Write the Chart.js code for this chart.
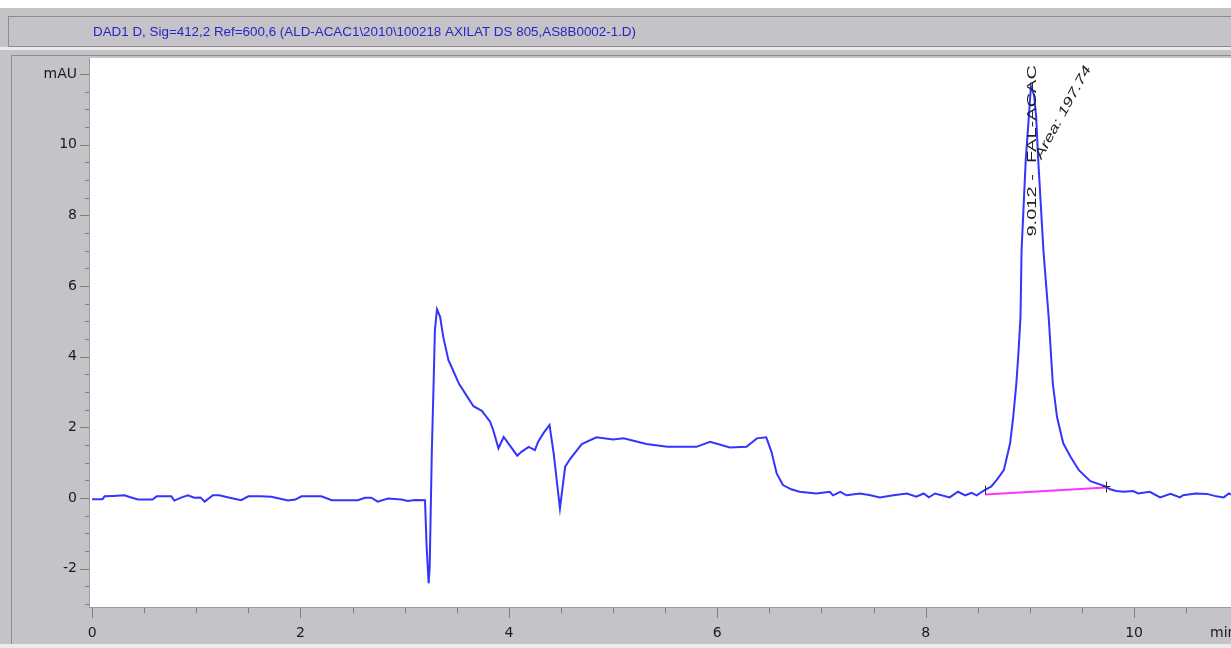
<!DOCTYPE html>
<html>
<head>
<meta charset="utf-8">
<title>DAD1 D chromatogram</title>
<script src="https://cdn.jsdelivr.net/npm/chart.js@4.4.1/dist/chart.umd.min.js"></script>
<style>
  html, body { margin: 0; padding: 0; background: #fff; }
  canvas { display: block; }
</style>
</head>
<body>
<canvas id="chrom" width="1231" height="648"></canvas>
<script>
// signal trace (time in min, absorbance in mAU)
const timeMin = [
  0.00, 0.10, 0.12, 0.20, 0.31, 0.36, 0.44, 0.58, 0.62, 0.76, 0.79, 0.86, 0.92, 0.98,
  1.04, 1.08, 1.16, 1.22, 1.31, 1.43, 1.50, 1.62, 1.72, 1.88, 1.95, 2.01, 2.20, 2.30,
  2.45, 2.55, 2.62, 2.68, 2.74, 2.84, 2.97, 3.03, 3.10, 3.195,
  3.21, 3.23, 3.24, 3.26, 3.28, 3.29, 3.31, 3.34, 3.37, 3.42, 3.45, 3.52, 3.60, 3.66,
  3.74, 3.82, 3.85, 3.90, 3.95, 4.08, 4.12, 4.19, 4.25, 4.28, 4.33, 4.39, 4.43, 4.49,
  4.54, 4.59, 4.70, 4.84, 5.00, 5.10, 5.32, 5.52, 5.80, 5.93, 6.12, 6.28, 6.38, 6.47,
  6.52, 6.57, 6.63, 6.71, 6.79, 6.95, 7.08, 7.11, 7.18, 7.24, 7.37, 7.47, 7.56, 7.69,
  7.82, 7.91, 7.98, 8.03, 8.09, 8.23, 8.31, 8.38, 8.44, 8.49, 8.54,
  8.57, 8.63, 8.68, 8.75, 8.78, 8.81, 8.84, 8.87, 8.89, 8.91, 8.92, 8.96, 8.99, 9.01, 9.04, 9.06, 9.08,
  9.13, 9.18, 9.22, 9.26, 9.32, 9.39, 9.47, 9.58, 9.72, 9.77, 9.83, 9.90, 9.99, 10.04,
  10.15, 10.25, 10.35, 10.44, 10.47, 10.59, 10.70, 10.79, 10.86, 10.91, 10.93
];
const absorbance = [
  -0.03, -0.03, 0.05, 0.06, 0.08, 0.03, -0.04, -0.04, 0.05, 0.05, -0.07, 0.02, 0.08, 0.01,
  0.02, -0.10, 0.08, 0.08, 0.02, -0.06, 0.05, 0.05, 0.04, -0.07, -0.04, 0.05, 0.05, -0.06,
  -0.06, -0.06, 0.01, 0.01, -0.10, -0.01, -0.04, -0.08, -0.05, -0.06,
  -1.33, -2.41, -1.94, 1.26, 3.53, 4.75, 5.34, 5.13, 4.56, 3.90, 3.71, 3.24, 2.87, 2.60,
  2.47, 2.16, 1.92, 1.41, 1.73, 1.20, 1.31, 1.45, 1.36, 1.59, 1.83, 2.07, 1.26, -0.29,
  0.89, 1.12, 1.53, 1.72, 1.66, 1.69, 1.53, 1.45, 1.45, 1.59, 1.43, 1.45, 1.69, 1.72,
  1.31, 0.70, 0.37, 0.25, 0.18, 0.13, 0.18, 0.08, 0.18, 0.08, 0.13, 0.08, 0.02, 0.08,
  0.13, 0.04, 0.13, 0.02, 0.13, 0.02, 0.18, 0.08, 0.15, 0.08, 0.18,
  0.23, 0.33, 0.51, 0.79, 1.17, 1.55, 2.30, 3.24, 4.10, 5.13, 7.00, 9.56, 10.79, 11.65, 11.40, 10.79, 9.56,
  7.00, 5.13, 3.24, 2.30, 1.55, 1.17, 0.79, 0.48, 0.34, 0.25, 0.20, 0.18, 0.20, 0.13,
  0.18, 0.02, 0.12, 0.02, 0.08, 0.13, 0.12, 0.05, 0.02, 0.13, 0.10
];

// integration baseline under the peak
const baselineTime = [8.57, 9.73];
const baselineValue = [0.10, 0.30];

// peak annotation
const peakTime = 9.012;
const peakName = '9.012 -  FAL-ACAC';
const peakArea = 'Area: 197.74';

// axes
const xLabelValues = [0, 2, 4, 6, 8, 10];
const yLabelValues = [-2, 0, 2, 4, 6, 8, 10];
const xTickValues = [];
for (let t = 0; t <= 10.5; t += 0.5) xTickValues.push(t);
const yTickValues = [];
for (let v = -3; v <= 12; v += 0.5) yTickValues.push(v);

const titleText = 'DAD1 D, Sig=412,2 Ref=600,6 (ALD-ACAC1\\2010\\100218 AXILAT DS 805,AS8B0002-1.D)';

const GRAY = '#c5c3c7';
const EDGE = '#8c8c8c';
const TICK = '#7e7e7e';

function fitText(c, text, x, y, width, angle, font, color) {
  c.save();
  c.font = font;
  c.fillStyle = color;
  c.textBaseline = 'middle';
  c.translate(x, y);
  c.rotate(angle);
  const m = c.measureText(text).width;
  c.scale(width / m, 1);
  c.fillText(text, 0, 0);
  c.restore();
}

const frame = {
  id: 'frame',
  beforeDraw(chart) {
    const c = chart.ctx, W = chart.width, H = chart.height, a = chart.chartArea;
    c.save();
    c.fillStyle = GRAY;
    c.fillRect(0, 0, W, H);
    c.fillStyle = '#fff';
    c.fillRect(0, 0, W, 8);
    // title box
    c.strokeStyle = EDGE;
    c.lineWidth = 1;
    c.strokeRect(8.5, 16.5, W, 30);
    c.fillStyle = '#ebebeb';
    c.fillRect(0, 47, W, 3);
    // inner panel edge
    c.beginPath();
    c.moveTo(11.5, 644);
    c.lineTo(11.5, 55.5);
    c.lineTo(W, 55.5);
    c.stroke();
    c.fillStyle = '#ebebeb';
    c.fillRect(0, 644, W, 4);
    // plot area
    c.fillStyle = '#fff';
    c.fillRect(a.left, a.top, a.right - a.left, a.bottom - a.top);
    c.restore();
  },
  afterDraw(chart) {
    const c = chart.ctx, W = chart.width, a = chart.chartArea;
    const xs = chart.scales.x, ys = chart.scales.y;
    c.save();
    c.lineWidth = 1;
    // axis lines
    c.strokeStyle = '#9a9a9a';
    c.beginPath();
    c.moveTo(a.left - 0.5, a.top);
    c.lineTo(a.left - 0.5, a.bottom + 1);
    c.moveTo(a.left - 1, a.bottom + 0.5);
    c.lineTo(W, a.bottom + 0.5);
    c.stroke();
    // tick marks
    c.strokeStyle = TICK;
    c.beginPath();
    yTickValues.forEach(v => {
      const py = Math.round(ys.getPixelForValue(v)) + 0.5;
      const major = v === 12 || yLabelValues.includes(v);
      c.moveTo(a.left - (major ? 10 : 5), py);
      c.lineTo(a.left - 1, py);
    });
    xTickValues.forEach(t => {
      const px = Math.round(xs.getPixelForValue(t)) + 0.5;
      const major = xLabelValues.includes(t);
      c.moveTo(px, a.bottom + 1);
      c.lineTo(px, a.bottom + (major ? 11 : 6));
    });
    c.stroke();
    // unit at the end of the time axis
    c.font = '14px "DejaVu Sans"';
    c.fillStyle = '#1a1a1a';
    c.textBaseline = 'middle';
    c.fillText('min', 1210, 633);
    // title
    fitText(c, titleText, 93, 32, 543, 0, '13px "Liberation Sans"', '#2626c6');
    // integration markers
    c.strokeStyle = '#333';
    const sx = Math.round(xs.getPixelForValue(baselineTime[0])) + 0.5;
    const sy = ys.getPixelForValue(baselineValue[0]);
    const ex = Math.round(xs.getPixelForValue(baselineTime[1])) + 0.5;
    const ey = ys.getPixelForValue(baselineValue[1]);
    c.beginPath();
    c.moveTo(sx, sy); c.lineTo(sx, sy - 9);
    c.moveTo(ex, ey - 6); c.lineTo(ex, ey + 5);
    c.moveTo(ex - 4, ey - 1); c.lineTo(ex + 4, ey - 1);
    c.stroke();
    c.beginPath();
    c.rect(a.left, a.top - 2, a.right - a.left, a.bottom - a.top + 2);
    c.clip();
    // peak label, vertical
    const px = xs.getPixelForValue(peakTime) + 1;
    const y0 = ys.getPixelForValue(7.4), y1 = ys.getPixelForValue(12.25);
    fitText(c, peakName, px, y0, y0 - y1, -Math.PI / 2, '13px "Liberation Sans"', '#1e1e1e');
    // area label, slanted
    const ax0 = xs.getPixelForValue(9.08), ay0 = ys.getPixelForValue(9.62);
    const ax1 = xs.getPixelForValue(9.56), ay1 = ys.getPixelForValue(12.2);
    const len = Math.hypot(ax1 - ax0, ay1 - ay0);
    fitText(c, peakArea, ax0, ay0, len, Math.atan2(ay1 - ay0, ax1 - ax0), 'italic 13px "Liberation Sans"', '#1e1e1e');
    c.restore();
  }
};

const ctx = document.getElementById('chrom').getContext('2d');
new Chart(ctx, {
  type: 'line',
  data: {
    datasets: [
      {
        label: 'DAD1 D',
        data: timeMin.map((t, i) => ({ x: t, y: absorbance[i] })),
        borderColor: '#3434ff',
        borderWidth: 2,
        pointRadius: 0,
        tension: 0,
        fill: false
      },
      {
        label: 'baseline',
        data: baselineTime.map((t, i) => ({ x: t, y: baselineValue[i] })),
        borderColor: '#ff33ff',
        borderWidth: 2,
        pointRadius: 0,
        tension: 0,
        fill: false
      }
    ]
  },
  options: {
    responsive: false,
    animation: false,
    events: [],
    layout: { padding: { top: 58, left: 0, right: 0, bottom: 0 } },
    plugins: {
      legend: { display: false },
      title: { display: false },
      tooltip: { enabled: false }
    },
    scales: {
      x: {
        type: 'linear',
        min: -0.02,
        max: 10.93,
        afterFit(scale) { scale.height = 41; },
        afterBuildTicks(scale) { scale.ticks = xTickValues.map(v => ({ value: v })); },
        grid: { display: false, drawTicks: false },
        border: { display: false },
        ticks: {
          autoSkip: false,
          maxRotation: 0,
          padding: 18,
          color: '#1a1a1a',
          font: { family: 'DejaVu Sans', size: 14 },
          callback: v => xLabelValues.includes(v) ? String(v) : ''
        }
      },
      y: {
        type: 'linear',
        min: -3.08,
        max: 12.45,
        afterFit(scale) { scale.width = 90; },
        afterBuildTicks(scale) { scale.ticks = yTickValues.map(v => ({ value: v })); },
        grid: { display: false, drawTicks: false },
        border: { display: false },
        ticks: {
          autoSkip: false,
          padding: 13,
          color: '#1a1a1a',
          font: { family: 'DejaVu Sans', size: 14 },
          callback: v => v === 12 ? 'mAU' : (yLabelValues.includes(v) ? String(v) : '')
        }
      }
    }
  },
  plugins: [frame]
});
</script>
</body>
</html>
